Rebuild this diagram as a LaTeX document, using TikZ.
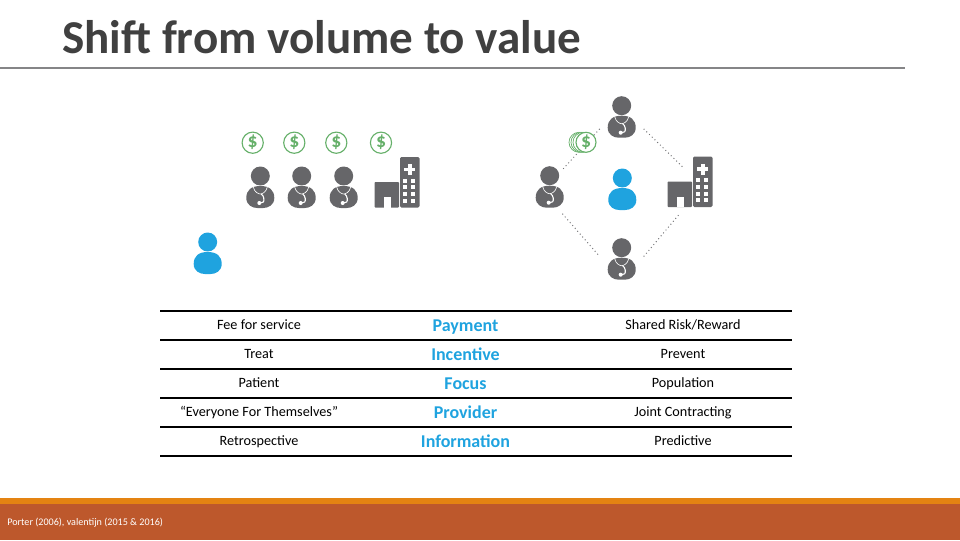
\documentclass[tikz,border=0pt]{standalone}
\usepackage{fontspec}
\setmainfont{Carlito}
\usepackage{xcolor}
\usetikzlibrary{arrows.meta, positioning, calc}
\definecolor{slate}{HTML}{666669}
\definecolor{skyblue}{HTML}{1FA3DF}
\definecolor{coingreen}{HTML}{66B06A}
\definecolor{barorange}{HTML}{E48312}
\definecolor{barbrown}{HTML}{BD582C}
\definecolor{titlegrey}{HTML}{404040}

\tikzset{
    person/.pic={
        \fill[pic actions] (0,-16) circle (9.5);
        \fill[pic actions] (0,-6) .. controls (-9,-6) and (-14,-2) .. (-14,6)
            .. controls (-14,13) and (-8,16) .. (-3,16) -- (3,16)
            .. controls (8,16) and (14,13) .. (14,6)
            .. controls (14,-2) and (9,-6) .. (0,-6) -- cycle;
    },
    doctor/.pic={
        \pic[fill=slate] {person};
        \draw[white, line width=0.45pt] (-7,-5) .. controls (-6,0) and (-2,2) .. (0,2)
            .. controls (2,2) and (6,0) .. (7,-5);
        \draw[white, line width=0.8pt] (1,2) .. controls (4,4) and (4,9) .. (3,10) -- (0,11);
        \fill[white] (-1,11) circle (2);
    },
    hospital/.pic={
        \fill[slate, rounded corners=0.6pt] (-22.5,0) rectangle (2,25.5);
        \fill[slate, rounded corners=1pt] (3,-25) rectangle (22.5,25.5);
        \fill[white] (-13,15) rectangle (-6.3,25.5);
        \fill[white] (10.8,-18) rectangle (14.7,-7);
        \fill[white] (7.2,-14.5) rectangle (18.3,-10.7);
        \foreach \wy in {-1.5,5,12,18.5}
            \foreach \wx in {8,16}
                \fill[white] (\wx-2,\wy-2) rectangle (\wx+2,\wy+2);
    },
    iconbox/.style={inner sep=0pt, outer sep=0pt, minimum width=1.1cm, minimum height=1.1cm},
    coin/.style={circle, draw=coingreen, line width=0.8pt, fill=white, inner sep=0pt, minimum size=0.53cm,
        text=coingreen, font=\fontsize{14}{14}\selectfont\bfseries},
    dotline/.style={slate!90, line width=0.7pt, dotted},
    cell/.style={inner sep=0pt, outer sep=0pt, minimum height=0.725cm, text height=7.6pt, text depth=2pt, font=\fontsize{10.1}{11}\selectfont, text=black},
    focus/.style={cell, text height=9pt, text depth=1pt, font=\fontsize{12.8}{13}\selectfont\bfseries, text=skyblue},
    rowline/.style={black, line width=1.4pt},
}

\begin{document}
\begin{tikzpicture}[x=0.025cm, y=-0.025cm]
\useasboundingbox (0,0) rectangle (960,540);

% title and footer
\node[anchor=base west, inner sep=0pt, text=titlegrey, font=\fontsize{33.5}{34}\selectfont\bfseries] (slidetitle) at (62,53) {Shift from volume to value};
\draw[slate!80, line width=1.3pt] (0,68) -- (905,68);
\fill[barorange] (0,498) rectangle (960,504);
\fill[barbrown] (0,504) rectangle (960,540);
\node[anchor=base west, inner sep=0pt, text=white, font=\fontsize{7.2}{8}\selectfont] (source) at (7,525) {Porter (2006), valentijn (2015 \& 2016)};

% volume side
\node[coin] (coina) at (252.7,142.7) {\$};
\node[coin] (coinb) at (294.3,142.7) {\$};
\node[coin] (coinc) at (336.3,142.7) {\$};
\node[coin] (coind) at (381,142.7) {\$};
\foreach \docx in {260.3,301.7,343.7}
    \pic at (\docx,192) {doctor};
\pic at (397,182) {hospital};
\pic[fill=skyblue] at (207.7,258) {person};

% value side
\node[iconbox] (doctop) at (621.7,121.7) {};
\node[iconbox] (docleft) at (549.7,191.7) {};
\node[iconbox] (docbottom) at (621.7,263.7) {};
\node[iconbox] (hospright) at (690,181.5) {};
\coordinate (hospnorth) at (684,168.3);
\coordinate (hospsouth) at (680,213.3);
\pic at (doctop) {doctor};
\pic at (docleft) {doctor};
\pic at (docbottom) {doctor};
\pic at (hospright) {hospital};
\pic[fill=skyblue] at (622.3,194) {person};

\draw[dotline] (doctop.198) -- (docleft.60);
\draw[dotline] (doctop.-18) -- (hospnorth);
\draw[dotline] (docleft.-60) -- (docbottom.162);
\draw[dotline] (docbottom.18) -- (hospsouth);

\foreach \stackx in {579,581,583}
    \draw[coingreen, line width=0.5pt, fill=white] (\stackx,142.3) circle (10);
\node[coin, minimum size=0.5cm] (coinstack) at (586,142.3) {\$};

% table
\node[cell] (feecell) at (259,325.5) {Fee for service};
\node[cell, below=0pt of feecell] (treatcell) {Treat};
\node[cell, below=0pt of treatcell] (patientcell) {Patient};
\node[cell, below=0pt of patientcell] (everyonecell) {“Everyone For Themselves”};
\node[cell, below=0pt of everyonecell] (retrocell) {Retrospective};

\node[focus] (paymentcell) at (465.5,325.5) {Payment};
\node[focus, below=0pt of paymentcell] (incentivecell) {Incentive};
\node[focus, below=0pt of incentivecell] (focuscell) {Focus};
\node[focus, below=0pt of focuscell] (providercell) {Provider};
\node[focus, below=0pt of providercell] (infocell) {Information};

\node[cell] (sharedcell) at (683,325.5) {Shared Risk/Reward};
\node[cell, below=0pt of sharedcell] (preventcell) {Prevent};
\node[cell, below=0pt of preventcell] (populationcell) {Population};
\node[cell, below=0pt of populationcell] (jointcell) {Joint Contracting};
\node[cell, below=0pt of jointcell] (predictcell) {Predictive};

\foreach \rowy in {311,340,369,398,427,456}
    \draw[rowline] (160,\rowy) -- (792,\rowy);

\end{tikzpicture}
\end{document}
